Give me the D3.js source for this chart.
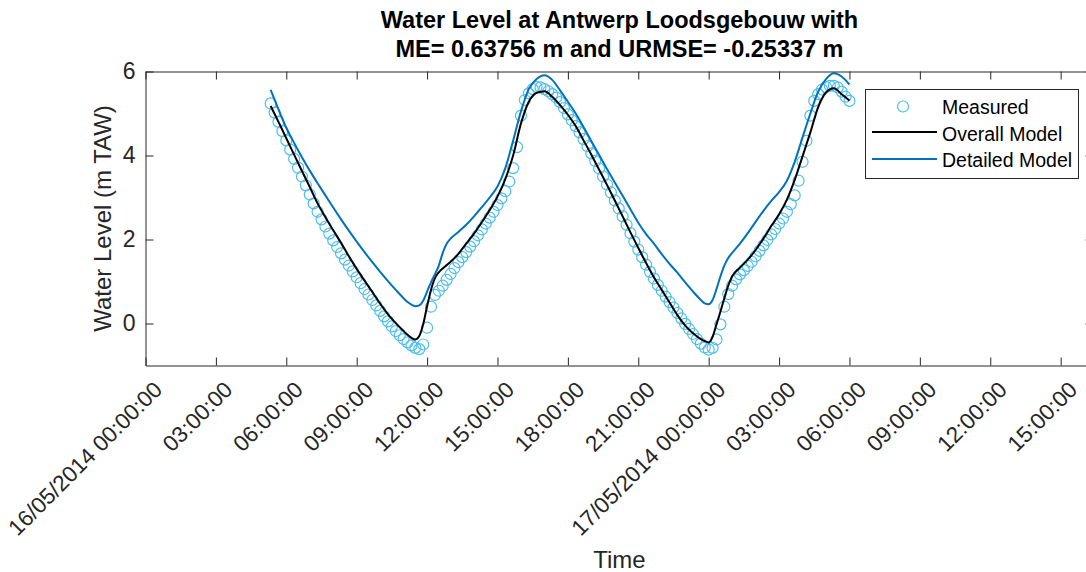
<!DOCTYPE html>
<html>
<head>
<meta charset="utf-8">
<script src="https://cdn.jsdelivr.net/npm/d3@7"></script>
<style>
  html, body { margin: 0; padding: 0; background: #ffffff; }
  svg { display: block; font-family: "Liberation Sans", Arial, Helvetica, sans-serif; }
</style>
</head>
<body>
<script>
// ---------------- DATA ----------------
const titleLines = ["Water Level at Antwerp Loodsgebouw with", "ME= 0.63756 m and URMSE= -0.25337 m"];
const xLabel = "Time";
const yLabel = "Water Level (m TAW)";
const seriesNames = ["Measured", "Overall Model", "Detailed Model"];

// x axis: start of time axis, tick times (hours after start) and tick labels
const axisStart = "2014-05-16T00:00:00Z";
const axisEndHours = 40.4;
const xTickHours = [0, 3, 6, 9, 12, 15, 18, 21, 24, 27, 30, 33, 36, 39];
const xTickLabels = ["16/05/2014 00:00:00", "03:00:00", "06:00:00", "09:00:00", "12:00:00", "15:00:00",
  "18:00:00", "21:00:00", "17/05/2014 00:00:00", "03:00:00", "06:00:00", "09:00:00", "12:00:00", "15:00:00"];
const yDomain = [-1, 6];
const yTicks = [0, 2, 4, 6];
const yTickLabels = ["0", "2", "4", "6"];

// Measured: every 10 minutes from 16/05 05:20 to 17/05 06:00
const measuredStartMin = 320;
const measuredStepMin = 10;
const measured = [
  5.24, 5.02, 4.80, 4.58,                       // 05:20-05:50
  4.36, 4.14, 3.92, 3.71, 3.50, 3.29,           // 06
  3.07, 2.86, 2.66, 2.48, 2.31, 2.14,           // 07
  1.98, 1.82, 1.67, 1.52, 1.38, 1.24,           // 08
  1.10, 0.96, 0.82, 0.69, 0.56, 0.43,           // 09
  0.30, 0.17, 0.05, -0.07, -0.18, -0.28,        // 10
  -0.37, -0.45, -0.52, -0.58, -0.61, -0.50,     // 11
  -0.10, 0.40, 0.68, 0.78, 0.90, 1.04,          // 12
  1.18, 1.32, 1.46, 1.58, 1.70, 1.83,           // 13
  1.96, 2.10, 2.24, 2.38, 2.52, 2.66,           // 14
  2.82, 2.98, 3.15, 3.38, 3.70, 4.20,           // 15
  4.95, 5.32, 5.48, 5.58, 5.63, 5.62,           // 16
  5.58, 5.53, 5.46, 5.38, 5.27, 5.13,           // 17
  4.98, 4.84, 4.70, 4.55, 4.39, 4.22,           // 18
  4.05, 3.87, 3.69, 3.50, 3.31, 3.12,           // 19
  2.93, 2.74, 2.55, 2.35, 2.15, 1.95,           // 20
  1.76, 1.58, 1.40, 1.23, 1.07, 0.92,           // 21
  0.78, 0.64, 0.51, 0.38, 0.25, 0.12,           // 22
  -0.01, -0.13, -0.25, -0.37, -0.48, -0.57,     // 23
  -0.62, -0.58, -0.38, -0.02, 0.40, 0.70,       // 17/05 00
  0.90, 1.05, 1.17, 1.27, 1.37, 1.47,           // 01
  1.60, 1.73, 1.86, 1.99, 2.12, 2.25,           // 02
  2.38, 2.50, 2.66, 2.84, 3.05, 3.40,           // 03
  3.85, 4.35, 4.95, 5.30, 5.46, 5.57,           // 04
  5.63, 5.66, 5.66, 5.62, 5.52, 5.40,           // 05
  5.30                                          // 06:00
];

// Model output times (minutes after 16/05 00:00)
const modelMinutes = [
  320, 340, 360, 380, 400, 420, 440, 460, 480, 500, 520, 540, 560, 580, 600, 620, 640, 660,
  670, 680, 690, 700, 710, 720, 730, 740, 750, 760, 770, 780,
  800, 820, 840, 860, 880, 900, 920, 940, 960, 980, 1000, 1020, 1040, 1060, 1080, 1100,
  1120, 1140, 1160, 1180, 1200, 1220, 1240, 1260, 1280, 1300, 1320, 1340, 1360, 1380, 1400, 1420,
  1430, 1440, 1450, 1460, 1470, 1480, 1490, 1500,
  1520, 1540, 1560, 1580, 1600, 1620, 1640, 1660, 1680, 1700, 1720, 1740, 1760, 1780, 1800
];
const overallModel = [
  5.18, 4.80, 4.41, 4.02, 3.63, 3.25, 2.86, 2.53, 2.22, 1.92, 1.60, 1.30, 1.02, 0.75, 0.47, 0.22, 0.01, -0.18,
  -0.27, -0.34, -0.38, -0.30, -0.02, 0.41, 0.80, 1.08, 1.22, 1.31, 1.39, 1.47,
  1.66, 1.90, 2.14, 2.41, 2.70, 3.02, 3.44, 4.00, 4.76, 5.28, 5.49, 5.53, 5.40, 5.20, 4.97, 4.70,
  4.36, 4.02, 3.66, 3.30, 2.93, 2.55, 2.17, 1.80, 1.44, 1.10, 0.80, 0.50, 0.20, -0.05, -0.23, -0.37,
  -0.42, -0.45, -0.32, -0.02, 0.28, 0.60, 0.90, 1.12,
  1.33, 1.52, 1.75, 2.02, 2.32, 2.60, 2.95, 3.42, 3.98, 4.55, 5.15, 5.50, 5.60, 5.46, 5.31
];
const detailedModel = [
  5.56, 5.10, 4.66, 4.30, 3.96, 3.64, 3.34, 3.05, 2.76, 2.48, 2.21, 1.95, 1.70, 1.46, 1.23, 1.01, 0.80, 0.60,
  0.51, 0.45, 0.41, 0.43, 0.54, 0.76, 0.98, 1.17, 1.38, 1.68, 1.90, 2.02,
  2.18, 2.35, 2.55, 2.77, 3.00, 3.26, 3.70, 4.35, 5.05, 5.58, 5.82, 5.91, 5.80, 5.55, 5.28, 5.00,
  4.68, 4.34, 4.01, 3.68, 3.36, 3.04, 2.72, 2.40, 2.13, 1.90, 1.65, 1.42, 1.21, 0.98, 0.76, 0.56,
  0.48, 0.46, 0.56, 0.82, 1.12, 1.38, 1.56, 1.68,
  1.90, 2.15, 2.42, 2.68, 2.92, 3.13, 3.40, 3.85, 4.43, 5.00, 5.52, 5.82, 5.96, 5.88, 5.69
];

// ---------------- CHART ----------------
const W = 1086, H = 572;
const plot = { left: 145.5, right: 1093.5, top: 71.5, bottom: 365.5 };
const axisColor = "#262626";
const colMeasured = "#4DBEEE", colOverall = "#000000", colDetailed = "#0072BD";

const t0 = new Date(axisStart).getTime();
const toDate = mins => new Date(t0 + mins * 60000);

const x = d3.scaleUtc()
  .domain([toDate(0), toDate(axisEndHours * 60)])
  .range([plot.left, plot.right]);
const y = d3.scaleLinear().domain(yDomain).range([plot.bottom, plot.top]);

const svg = d3.select("body").append("svg").attr("width", W).attr("height", H);

// series data
const measuredData = measured.map((v, i) => ({ t: toDate(measuredStartMin + i * measuredStepMin), v }));
const overallData = overallModel.map((v, i) => ({ t: toDate(modelMinutes[i]), v }));
const detailedData = detailedModel.map((v, i) => ({ t: toDate(modelMinutes[i]), v }));

const gData = svg.append("g");

gData.selectAll("circle.meas").data(measuredData).join("circle")
  .attr("class", "meas")
  .attr("cx", d => x(d.t)).attr("cy", d => y(d.v)).attr("r", 5.5)
  .attr("fill", "none").attr("stroke", colMeasured).attr("stroke-width", 1.2);

const line = d3.line().x(d => x(d.t)).y(d => y(d.v)).curve(d3.curveMonotoneX);

gData.append("path").datum(overallData)
  .attr("d", line).attr("fill", "none").attr("stroke", colOverall).attr("stroke-width", 2);
gData.append("path").datum(detailedData)
  .attr("d", line).attr("fill", "none").attr("stroke", colDetailed).attr("stroke-width", 2);

// axes
const tickDates = xTickHours.map(h => toDate(h * 60));
const xAxis = d3.axisBottom(x).tickValues(tickDates)
  .tickFormat((d, i) => xTickLabels[i]).tickSizeInner(-8).tickSizeOuter(0);
const gx = svg.append("g").attr("transform", `translate(0,${plot.bottom})`).call(xAxis);
gx.select(".domain").attr("stroke", axisColor).attr("stroke-width", 1);
gx.selectAll(".tick line").attr("stroke", axisColor).attr("stroke-width", 1);
gx.selectAll(".tick text")
  .attr("x", 0).attr("y", 0).attr("dy", "0.35em")
  .attr("text-anchor", "end")
  .attr("transform", "translate(12,20) rotate(-45)")
  .attr("fill", axisColor).style("font-size", "22.5px")
  .style("font-family", "'Liberation Sans', Arial, sans-serif");

const yAxis = d3.axisLeft(y).tickValues(yTicks)
  .tickFormat((d, i) => yTickLabels[i]).tickSizeInner(-8).tickSizeOuter(0).tickPadding(10);
const gy = svg.append("g").attr("transform", `translate(${plot.left},0)`).call(yAxis);
gy.select(".domain").attr("stroke", axisColor).attr("stroke-width", 1);
gy.selectAll(".tick line").attr("stroke", axisColor).attr("stroke-width", 1);
gy.selectAll(".tick text").attr("fill", axisColor).style("font-size", "23px")
  .style("font-family", "'Liberation Sans', Arial, sans-serif");

// box: top and right with inward ticks
const xTop = d3.axisTop(x).tickValues(tickDates).tickFormat("").tickSizeInner(-8).tickSizeOuter(0);
const gxt = svg.append("g").attr("transform", `translate(0,${plot.top})`).call(xTop);
gxt.select(".domain").attr("stroke", axisColor);
gxt.selectAll(".tick line").attr("stroke", axisColor);
const yRight = d3.axisRight(y).tickValues(yTicks).tickFormat("").tickSizeInner(-8).tickSizeOuter(0);
const gyr = svg.append("g").attr("transform", `translate(${plot.right},0)`).call(yRight);
gyr.select(".domain").attr("stroke", axisColor);
gyr.selectAll(".tick line").attr("stroke", axisColor);

// labels
const cx = (plot.left + plot.right) / 2;
svg.append("text").attr("x", cx).attr("y", 568).attr("text-anchor", "middle")
  .attr("fill", axisColor).style("font-size", "24px").text(xLabel);
svg.append("text").attr("transform", `translate(111,${(plot.top + plot.bottom) / 2}) rotate(-90)`)
  .attr("text-anchor", "middle").attr("fill", axisColor).style("font-size", "24px").text(yLabel);

svg.selectAll("text.title").data(titleLines).join("text").attr("class", "title")
  .attr("x", cx).attr("y", (d, i) => 28.3 + i * 28.4)
  .attr("text-anchor", "middle").attr("fill", "#000").style("font-size", "23.5px")
  .style("font-weight", "bold").text(d => d);

// legend
const lg = svg.append("g");
lg.append("rect").attr("x", 865.5).attr("y", 89.5).attr("width", 213).attr("height", 89)
  .attr("fill", "#fff").attr("stroke", axisColor).attr("stroke-width", 1);
const legendRows = [
  { name: seriesNames[0], type: "circle", color: colMeasured, cy: 106.5, base: 114 },
  { name: seriesNames[1], type: "line", color: colOverall, cy: 132, base: 141 },
  { name: seriesNames[2], type: "line", color: colDetailed, cy: 159, base: 167 }
];
legendRows.forEach(r => {
  if (r.type === "circle") {
    lg.append("circle").attr("cx", 903).attr("cy", r.cy).attr("r", 5.5)
      .attr("fill", "none").attr("stroke", r.color).attr("stroke-width", 1.2);
  } else {
    lg.append("line").attr("x1", 872).attr("x2", 937).attr("y1", r.cy).attr("y2", r.cy)
      .attr("stroke", r.color).attr("stroke-width", 2);
  }
  lg.append("text").attr("x", 942).attr("y", r.base).attr("fill", "#000")
    .style("font-size", "19.5px").text(r.name);
});
</script>
</body>
</html>
